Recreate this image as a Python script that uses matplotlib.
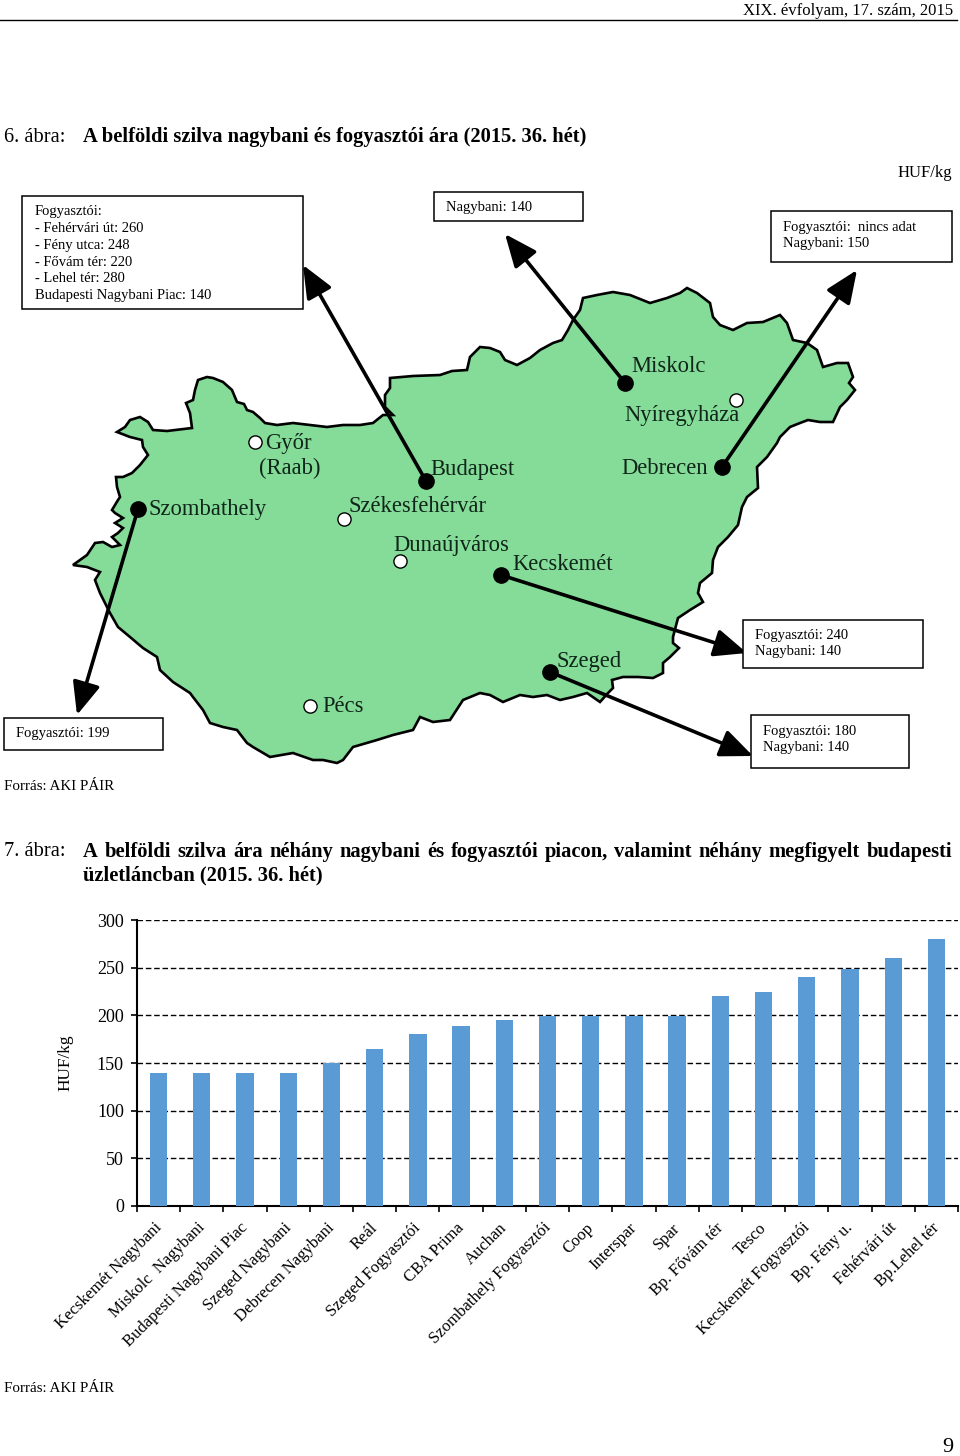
import matplotlib
matplotlib.use('Agg')
import matplotlib.pyplot as plt
from matplotlib.patches import Polygon, Rectangle
from matplotlib.ticker import FixedLocator, NullFormatter

plt.rcParams['font.family'] = ['Liberation Serif', 'DejaVu Serif']

W, H = 960, 1456
DY = 2  # a szöveg függőleges igazítása

# oszlopdiagram adatai
categories = ['Kecskemét Nagybani', 'Miskolc  Nagybani', 'Budapesti Nagybani Piac', 'Szeged Nagybani',
              'Debrecen Nagybani', 'Reál', 'Szeged Fogyasztói', 'CBA Prima', 'Auchan',
              'Szombathely Fogyasztói', 'Coop', 'Interspar', 'Spar', 'Bp. Fővám tér', 'Tesco',
              'Kecskemét Fogyasztói', 'Bp. Fény u.', 'Fehérvári út', 'Bp.Lehel tér']
prices = [140, 140, 140, 140, 150, 165, 180, 189, 195, 199, 199, 199, 199, 220, 225, 240, 249, 260, 280]
y_ticks = [0, 50, 100, 150, 200, 250, 300]

# térkép körvonala, képpontban leolvasva
border = [(73, 565), (80, 560), (87, 555), (95, 543), (103, 542), (112, 547), (120, 545), (112, 537), (118, 533),
          (123, 528), (115, 523), (123, 518), (115, 513), (112, 510), (118, 500), (120, 497), (117, 487),
          (116, 477), (123, 477), (132, 473), (140, 465), (148, 455), (143, 447), (142, 440), (130, 437),
          (117, 432), (125, 427), (130, 420), (140, 417), (148, 422), (153, 430), (167, 431), (192, 428),
          (190, 413), (186, 403), (193, 400), (195, 390), (198, 380), (207, 377), (213, 378), (223, 382),
          (232, 390), (237, 402), (244, 404), (247, 410), (253, 412), (260, 418), (265, 423), (277, 425),
          (293, 423), (310, 425), (327, 427), (343, 425), (360, 425), (373, 423), (383, 415), (393, 415),
          (385, 407), (385, 395), (390, 388), (390, 378), (413, 376), (440, 375), (452, 371), (467, 370),
          (470, 357), (480, 347), (490, 348), (500, 352), (505, 360), (517, 365), (530, 358), (540, 350),
          (553, 343), (562, 340), (568, 330), (573, 320), (580, 310), (583, 298), (597, 295), (613, 292),
          (630, 295), (650, 303), (667, 298), (680, 293), (687, 288), (697, 293), (710, 303), (713, 317),
          (720, 325), (733, 330), (747, 323), (763, 322), (780, 315), (787, 323), (793, 340), (807, 343),
          (817, 350), (823, 367), (837, 363), (848, 363), (853, 377), (849, 383), (855, 390), (847, 400),
          (840, 407), (833, 422), (820, 422), (808, 420), (800, 423), (790, 427), (780, 437), (777, 443),
          (767, 457), (757, 467), (758, 488), (747, 497), (742, 507), (738, 525), (728, 537), (718, 547),
          (713, 560), (712, 573), (700, 583), (698, 593), (703, 602), (690, 610), (678, 618), (673, 637),
          (673, 643), (679, 648), (670, 657), (663, 663), (663, 673), (653, 678), (638, 677), (623, 677),
          (612, 680), (613, 688), (608, 693), (600, 702), (587, 693), (573, 697), (560, 700), (547, 695),
          (533, 697), (520, 695), (503, 702), (490, 695), (480, 693), (463, 700), (450, 720), (433, 722),
          (420, 717), (413, 730), (393, 735), (377, 740), (353, 747), (343, 760), (337, 763), (323, 760),
          (313, 760), (293, 753), (270, 757), (253, 747), (247, 743), (237, 730), (223, 727), (210, 723),
          (203, 710), (193, 697), (190, 693), (173, 682), (160, 670), (157, 657), (143, 648), (130, 637),
          (118, 627), (110, 613), (100, 593), (95, 580), (100, 572), (87, 567)]

# városok: név, szöveg x, szöveg y
place_labels = [('Miskolc', 631, 365), ('Nyíregyháza', 624, 414), ('Debrecen', 621, 466), ('Budapest', 430, 468),
                ('Győr', 265, 441), ('(Raab)', 259, 466), ('Szombathely', 149, 508), ('Székesfehérvár', 349, 505),
                ('Dunaújváros', 393, 543), ('Kecskemét', 512, 562), ('Szeged', 557, 660), ('Pécs', 322, 704)]
open_dots = [(255, 442), (344, 519), (400, 561), (736, 400), (310, 706)]
# nyilak: kezdőpont és hegy
arrows = [((426, 481), (303, 265)), ((625, 383), (505, 234)), ((722, 467), (857, 270)),
          ((501, 575), (747, 653)), ((550, 672), (753, 756)), ((138, 509), (77, 715))]
# dobozok: x0, y0, x1, y1, szöveg x, sorok (y, szöveg)
boxes = [(22, 196, 303, 309, 35, [(211, 'Fogyasztói:'), (228, '- Fehérvári út: 260'), (244, '- Fény utca: 248'),
                                   (261, '- Fővám tér: 220'), (278, '- Lehel tér: 280'),
                                   (295, 'Budapesti Nagybani Piac: 140')]),
         (434, 192, 583, 221, 446, [(207, 'Nagybani: 140')]),
         (771, 211, 952, 262, 783, [(226, 'Fogyasztói:  nincs adat'), (243, 'Nagybani: 150')]),
         (743, 620, 923, 668, 755, [(634, 'Fogyasztói: 240'), (651, 'Nagybani: 140')]),
         (751, 715, 909, 768, 763, [(730, 'Fogyasztói: 180'), (747, 'Nagybani: 140')]),
         (4, 718, 163, 750, 16, [(733, 'Fogyasztói: 199')])]

fig = plt.figure(figsize=(W / 100, H / 100), dpi=100)

# teljes oldalas tengely képpont koordinátákkal
page = fig.add_axes([0, 0, 1, 1])
page.set_xlim(0, W)
page.set_ylim(H, 0)
page.axis('off')


def justified(ax, x0, x1, y, line, **kw):
    # sorkizárt sor: szavanként, egyenletes közökkel
    renderer = fig.canvas.get_renderer()
    words = [ax.text(x0, y, w, va='center', **kw) for w in line.split()]
    widths = [t.get_window_extent(renderer).width for t in words]
    gap = (x1 - x0 - sum(widths)) / (len(words) - 1)
    x = x0
    for t, w in zip(words, widths):
        t.set_x(x)
        x += w + gap


page.text(953, 9 + DY, 'XIX. évfolyam, 17. szám, 2015', ha='right', va='center', fontsize=12)
page.plot([0, 957], [20, 20], color='k', lw=1)
page.text(4, 135 + DY, '6. ábra:', va='center', fontsize=14.7)
page.text(83, 135 + DY, 'A belföldi szilva nagybani és fogyasztói ára (2015. 36. hét)', va='center',
          fontsize=14.75, fontweight='bold')
page.text(952, 171 + DY, 'HUF/kg', ha='right', va='center', fontsize=12)
page.text(4, 785 + DY, 'Forrás: AKI PÁIR', va='center', fontsize=10.8)
page.text(4, 850 + DY, '7. ábra:', va='center', fontsize=14.7)
justified(page, 83, 952, 850 + DY,
          'A belföldi szilva ára néhány nagybani és fogyasztói piacon, valamint néhány megfigyelt budapesti',
          fontsize=14.75, fontweight='bold')
page.text(83, 873 + DY, 'üzletláncban (2015. 36. hét)', va='center', fontsize=14.75, fontweight='bold')
page.text(4, 1386 + DY, 'Forrás: AKI PÁIR', va='center', fontsize=10.8)
page.text(948, 1446 + DY, '9', ha='center', va='center', fontsize=16)
page.text(65, 1063, 'HUF/kg', rotation=90, ha='center', va='center', fontsize=12.4)

# térkép
page.add_patch(Polygon(border, closed=True, facecolor='#85DC98', edgecolor='k', lw=1.9, zorder=1))
for name, x, y in place_labels:
    page.text(x, y + DY, name, va='center', fontsize=16.3, color='#10261a', zorder=3)
for (x0, y0), (x1, y1) in arrows:
    page.annotate('', xy=(x1, y1), xytext=(x0, y0), zorder=4,
                  arrowprops=dict(arrowstyle='-|>,head_length=2.0,head_width=0.85', mutation_scale=10,
                                  lw=2.6, color='k', shrinkA=0, shrinkB=0))
    page.plot(x0, y0, 'o', color='k', ms=11, zorder=5)
for x, y in open_dots:
    page.plot(x, y, 'o', mfc='white', mec='k', ms=9.5, mew=1, zorder=5)

for x0, y0, x1, y1, tx, lines in boxes:
    page.add_patch(Rectangle((x0, y0), x1 - x0, y1 - y0, facecolor='white', edgecolor='k', lw=1.1, zorder=6))
    for ty, line in lines:
        page.text(tx, ty + 1, line, va='center', fontsize=10.55, zorder=7)

# oszlopdiagram
ax = fig.add_axes([137 / W, 1 - 1206 / H, (958 - 137) / W, (1206 - 920) / H])
ax.patch.set_alpha(0)
pos = list(range(len(categories)))
ax.bar(pos, prices, width=0.4, color='#5B9BD5', zorder=3)
ax.set_xlim(-0.5, len(categories) - 0.5)
ax.set_ylim(0, 300)
ax.set_yticks(y_ticks)
ax.grid(axis='y', color='k', linestyle=(0, (4, 2)), lw=1, zorder=1)
# a feliratok kicsit balra az oszlop közepétől, a fő tick nem látszik
ax.set_xticks([p - 0.115 for p in pos])
ax.set_xticklabels(categories, rotation=45, ha='right', rotation_mode='anchor', fontsize=12)
ax.xaxis.set_minor_locator(FixedLocator([p - 0.5 for p in pos] + [len(categories) - 0.5]))
ax.xaxis.set_minor_formatter(NullFormatter())
ax.tick_params(axis='x', which='major', length=0, pad=10)
ax.tick_params(axis='x', which='minor', length=4.5, width=1.2, direction='out')
ax.tick_params(axis='y', length=4, width=1.2, labelsize=13, pad=5.5)
for side in ['top', 'right']:
    ax.spines[side].set_visible(False)
ax.spines['left'].set_linewidth(1.5)
ax.spines['bottom'].set_linewidth(1.5)

fig.savefig('out.png', dpi=100)
